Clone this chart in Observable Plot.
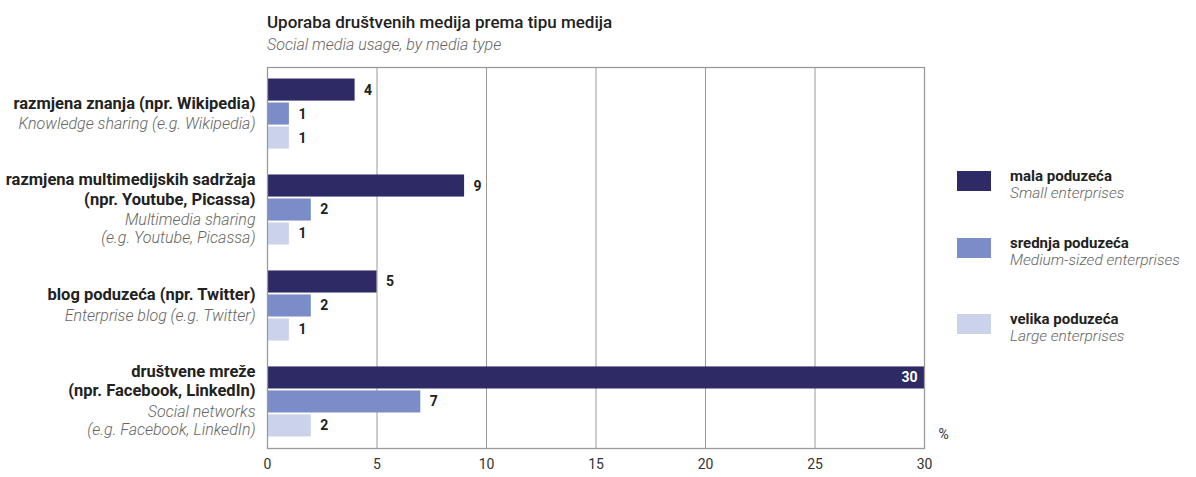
<!DOCTYPE html>
<html>
<head>
<meta charset="utf-8">
<script src="https://cdn.jsdelivr.net/npm/d3@7"></script>
<script src="https://cdn.jsdelivr.net/npm/@observablehq/plot@0.6"></script>
<style>
  body { margin: 0; background: #fff; }
  #wrap { position: relative; width: 1196px; height: 477px; font-family: Roboto, "Liberation Sans", sans-serif; }
  #wrap svg { position: absolute; left: 0; top: 0; }
  .title { position: absolute; left: 267px; top: 12px; font-size: 17px; line-height: 20px; font-weight: 500; color: #222; white-space: nowrap; }
  .subtitle { position: absolute; left: 267px; top: 35px; font-size: 16px; line-height: 20px; font-style: italic; font-weight: 300; color: #666; white-space: nowrap; }
  .leg { position: absolute; left: 957px; }
  .sw { position: absolute; left: 0; width: 34px; height: 20px; }
  .lt { position: absolute; left: 53px; top: -3px; white-space: nowrap; }
  .lt b { font-size: 15px; line-height: 16px; height: 16px; color: #222; display: block; font-weight: 700; }
  .lt i { font-size: 15.5px; line-height: 18px; color: #666; display: block; font-weight: 300; }
</style>
</head>
<body>
<div id="wrap">
  <div class="title">Uporaba društvenih medija prema tipu medija</div>
  <div class="subtitle">Social media usage, by media type</div>
</div>
<script>
// Categories (Croatian label, English label)
const categoriesHr = [
  "razmjena znanja (npr. Wikipedia)",
  "razmjena multimedijskih sadržaja\n(npr. Youtube, Picassa)",
  "blog poduzeća (npr. Twitter)",
  "društvene mreže\n(npr. Facebook, LinkedIn)"
];
const categoriesEn = [
  "Knowledge sharing (e.g. Wikipedia)",
  "Multimedia sharing\n(e.g. Youtube, Picassa)",
  "Enterprise blog (e.g. Twitter)",
  "Social networks\n(e.g. Facebook, LinkedIn)"
];
// Series
const seriesHr = ["mala poduzeća", "srednja poduzeća", "velika poduzeća"];
const seriesEn = ["Small enterprises", "Medium-sized enterprises", "Large enterprises"];
const seriesColors = ["#2e2a66", "#7b8dc8", "#cbd3eb"];
// Values (%) per series, in category order
const smallValues = [4, 9, 5, 30];
const mediumValues = [1, 2, 2, 7];
const largeValues = [1, 1, 1, 2];
const xTicks = [0, 5, 10, 15, 20, 25, 30];

const seriesValues = [smallValues, mediumValues, largeValues];
const rows = [];
categoriesHr.forEach((c, i) => {
  seriesHr.forEach((s, j) => {
    rows.push({cat: i, series: j, key: i + "|" + j, value: seriesValues[j][i], color: seriesColors[j]});
  });
});
const yDomain = [];
categoriesHr.forEach((c, i) => {
  if (i > 0) yDomain.push("gap" + i);
  seriesHr.forEach((s, j) => yDomain.push(i + "|" + j));
});
const labelRows = categoriesHr.map((c, i) => ({key: i + "|1", hr: c, en: categoriesEn[i]}));
const maxV = d3.max(rows, d => d.value);

const chart = Plot.plot({
  width: 1196,
  height: 477,
  marginTop: 67,
  marginBottom: 29,
  marginLeft: 267,
  marginRight: 272,
  style: {fontFamily: 'Roboto, "Liberation Sans", sans-serif', background: "transparent"},
  x: {domain: [0, 30], ticks: xTicks, tickSize: 0, tickPadding: 11, tickFormat: d => d, label: null},
  y: {domain: yDomain, paddingInner: 0.08, paddingOuter: 0.48, round: false, axis: null},
  marks: [
    Plot.ruleX(xTicks, {stroke: "#9a9a9a", strokeWidth: 1}),
    Plot.barX(rows, {x: "value", y: "key", fill: "color"}),
    Plot.frame({stroke: "#9a9a9a", strokeWidth: 1.3}),
    Plot.text(rows.filter(d => d.value < maxV), {x: "value", y: "key", text: d => String(d.value), textAnchor: "start", dx: 9, fontWeight: "bold", fontSize: 14, fill: "#222"}),
    Plot.text(rows.filter(d => d.value >= maxV), {x: "value", y: "key", text: d => String(d.value), textAnchor: "end", dx: -7, fontWeight: "bold", fontSize: 14, fill: "#fff"}),
    Plot.text(labelRows, {x: 0, y: "key", text: "hr", textAnchor: "end", dx: -12, lineAnchor: "bottom", dy: -5.5, lineHeight: 1.21, fontWeight: "bold", fontSize: 16.5, fill: "#222"}),
    Plot.text(labelRows, {x: 0, y: "key", text: "en", textAnchor: "end", dx: -12, lineAnchor: "top", dy: 1.5, lineHeight: 1.16, fontStyle: "italic", fontWeight: 300, fontSize: 16, fill: "#666"}),
    Plot.text(["%"], {frameAnchor: "bottom-right", textAnchor: "start", dx: 14, dy: -10, fontSize: 14, fill: "#333"})
  ]
});
chart.querySelectorAll('g[aria-label="x-axis tick label"]').forEach(n => { n.setAttribute("font-size", 14); n.setAttribute("fill", "#333"); });
const wrap = document.getElementById("wrap");
wrap.appendChild(chart);

const legTops = [171, 238, 314];
seriesHr.forEach((s, j) => {
  const d = document.createElement("div");
  d.className = "leg";
  d.style.top = legTops[j] + "px";
  d.innerHTML = `<div class="sw" style="top:0;background:${seriesColors[j]}"></div><div class="lt"><b>${s}</b><i>${seriesEn[j]}</i></div>`;
  wrap.appendChild(d);
});
</script>
</body>
</html>
